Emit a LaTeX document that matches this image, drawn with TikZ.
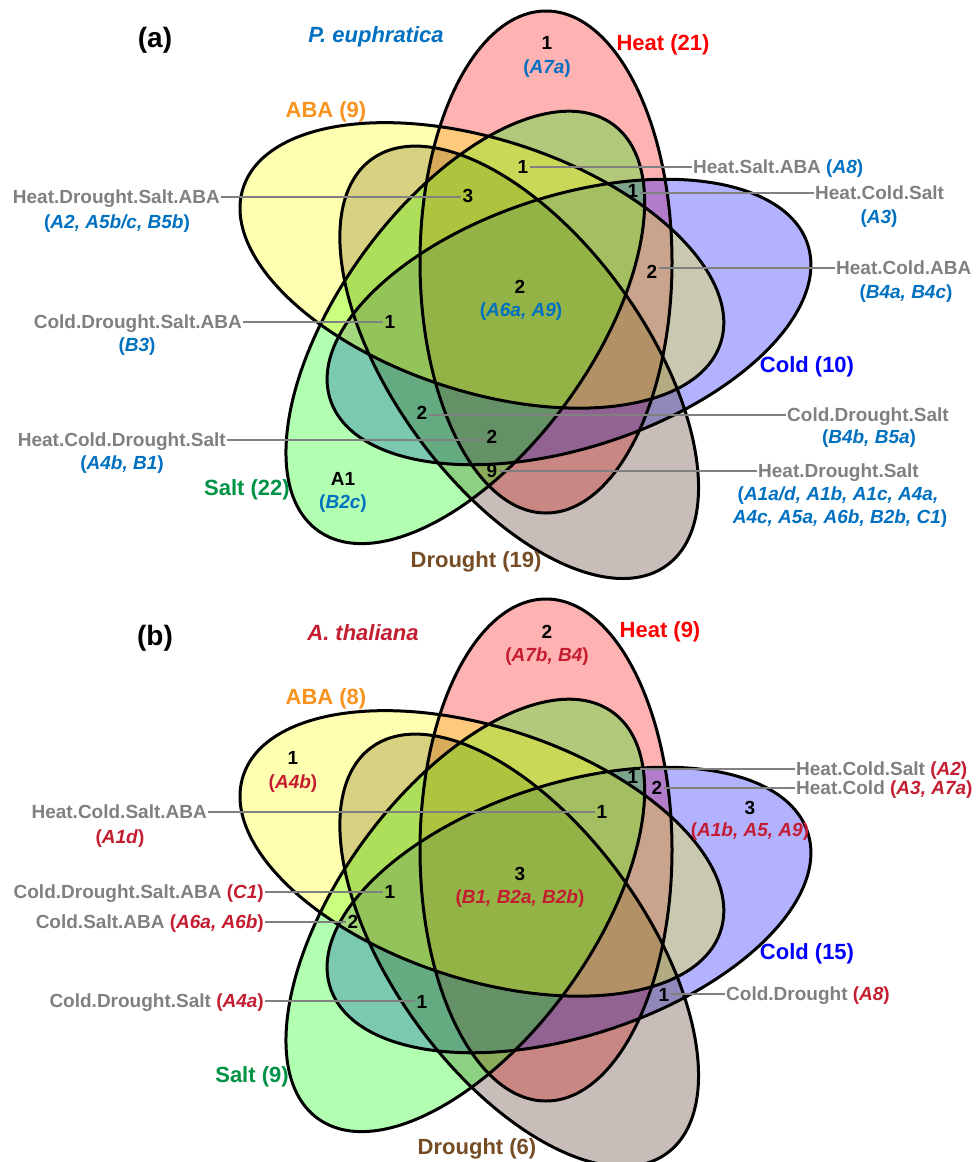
\documentclass[tikz,border=0pt]{standalone}
\usepackage{fontspec}
\setmainfont{Liberation Sans}
\definecolor{cheat}{RGB}{255,0,0}
\definecolor{ccold}{RGB}{0,0,255}
\definecolor{cdrought}{RGB}{72,38,22}
\definecolor{csalt}{RGB}{0,255,0}
\definecolor{caba}{RGB}{255,255,0}
\definecolor{tgray}{RGB}{128,128,128}
\definecolor{gblue}{RGB}{0,112,192}
\definecolor{gred}{RGB}{196,28,48}
\definecolor{taba}{RGB}{247,147,30}
\definecolor{tsalt}{RGB}{0,146,69}
\definecolor{tdrought}{RGB}{117,76,36}
\newcommand\gbl[1]{\textcolor{gblue}{(\textit{#1})}}
\newcommand\grd[1]{\textcolor{gred}{(\textit{#1})}}
\newcommand\drawvenn{%
  \fill[cheat, fill opacity=0.3] (546,262) ellipse[x radius=126pt, y radius=251pt];
  \fill[ccold, fill opacity=0.3, rotate around={18:(569,322)}] (569,322) ellipse[x radius=251pt, y radius=126pt];
  \fill[cdrought, fill opacity=0.3, rotate around={-54:(519.2,362.3)}] (519.2,362.3) ellipse[x radius=251pt, y radius=126pt];
  \fill[csalt, fill opacity=0.3, rotate around={-126:(465.3,327.4)}] (465.3,327.4) ellipse[x radius=251pt, y radius=126pt];
  \fill[caba, fill opacity=0.3, rotate around={162:(481.9,265.4)}] (481.9,265.4) ellipse[x radius=251pt, y radius=126pt];
  \draw[outl] (546,262) ellipse[x radius=126pt, y radius=251pt];
  \draw[outl, rotate around={18:(569,322)}] (569,322) ellipse[x radius=251pt, y radius=126pt];
  \draw[outl, rotate around={-54:(519.2,362.3)}] (519.2,362.3) ellipse[x radius=251pt, y radius=126pt];
  \draw[outl, rotate around={-126:(465.3,327.4)}] (465.3,327.4) ellipse[x radius=251pt, y radius=126pt];
  \draw[outl, rotate around={162:(481.9,265.4)}] (481.9,265.4) ellipse[x radius=251pt, y radius=126pt];
}
\tikzset{
  outl/.style={draw=black, line width=3pt},
  setlab/.style={font=\fontsize{22}{26}\selectfont\bfseries, inner sep=0pt, text height=15.8pt, text depth=0pt},
  titlab/.style={font=\fontsize{28}{32}\selectfont\bfseries, inner sep=0pt},
  glab/.style={font=\fontsize{19}{22}\selectfont\bfseries, text=tgray, inner sep=1pt, text height=13.6pt, text depth=0pt},
  gene/.style={font=\fontsize{19}{22}\selectfont\bfseries, inner sep=0pt, text height=13.6pt, text depth=0pt},
  num/.style={font=\fontsize{19}{22}\selectfont\bfseries, inner sep=2pt, text height=13.6pt, text depth=0pt},
  leader/.style={draw=tgray, line width=1.8pt},
}
\begin{document}
\begin{tikzpicture}[x=1pt, y=-1pt]
\useasboundingbox (0,0) rectangle (977,1162);
% ---------------- panel (a)
\begin{scope}
\drawvenn
\end{scope}
\node[titlab] (ta) at (155,40) {(a)};
\node[setlab, text=gblue, font=\fontsize{22}{26}\selectfont\bfseries\itshape] (spa) at (376,35) {P. euphratica};
\node[setlab, text=taba] (abaa) at (326,110) {ABA (9)};
\node[setlab, text=cheat] (heata) at (663,43) {Heat (21)};
\node[setlab, text=ccold] (colda) at (807,365) {Cold (10)};
\node[setlab, text=tsalt] (salta) at (247,488) {Salt (22)};
\node[setlab, text=tdrought] (drougha) at (476,560) {Drought (19)};
% heat only
\node[num] (a1) at (547,43) {1};
\node[gene] (a1g) at (547,67) {\gbl{A7a}};
% heat.salt.aba
\node[num] (a2) at (523,167) {1};
\node[glab, anchor=west] (a2l) at (692,167) {Heat.Salt.ABA \gbl{A8}};
\draw[leader] (a2l.west) -- (a2l.west -| a2.east);
% heat.cold.salt
\node[num] (a3) at (633,191) {1};
\node[glab, anchor=west] (a3l) at (814,193) {Heat.Cold.Salt};
\node[gene] (a3g) at (879,217) {\gbl{A3}};
\draw[leader] (a3l.west) -- (a3l.west -| a3.east);
% heat.cold.aba
\node[num] (a4) at (652,272) {2};
\node[glab, anchor=west] (a4l) at (835,268) {Heat.Cold.ABA};
\node[gene] (a4g) at (906,292) {\gbl{B4a, B4c}};
\draw[leader] (a4l.west) -- (a4l.west -| a4.east);
% heat.drought.salt.aba
\node[num] (a5) at (468,196) {3};
\node[glab, anchor=east] (a5l) at (221,197) {Heat.Drought.Salt.ABA};
\node[gene] (a5g) at (117,222) {\gbl{A2, A5b/c, B5b}};
\draw[leader] (a5l.east) -- (a5l.east -| a5.west);
% centre
\node[num] (a6) at (520,287) {2};
\node[gene] (a6g) at (521,310) {\gbl{A6a, A9}};
% cold.drought.salt.aba
\node[num] (a7) at (390,322) {1};
\node[glab, anchor=east] (a7l) at (243,322) {Cold.Drought.Salt.ABA};
\node[gene] (a7g) at (137,345) {\gbl{B3}};
\draw[leader] (a7l.east) -- (a7l.east -| a7.west);
% cold.drought.salt
\node[num] (a8) at (422,413) {2};
\node[glab, anchor=west] (a8l) at (786,415) {Cold.Drought.Salt};
\node[gene] (a8g) at (869,437) {\gbl{B4b, B5a}};
\draw[leader] (a8l.west) -- (a8l.west -| a8.east);
% heat.cold.drought.salt
\node[num] (a9) at (492,437) {2};
\node[glab, anchor=east] (a9l) at (227,440) {Heat.Cold.Drought.Salt};
\node[gene] (a9g) at (122,463) {\gbl{A4b, B1}};
\draw[leader] (a9l.east) -- (a9l.east -| a9.west);
% heat.drought.salt
\node[num] (a10) at (492,471) {9};
\node[glab, anchor=west] (a10l) at (757,471) {Heat.Drought.Salt};
\node[gene] (a10g) at (838,494) {\textcolor{gblue}{(\textit{A1a/d, A1b, A1c, A4a,}}};
\node[gene] (a10h) at (840,517) {\textcolor{gblue}{\textit{A4c, A5a, A6b, B2b, C1})}};
\draw[leader] (a10l.west) -- (a10l.west -| a10.east);
% salt only
\node[num] (a11) at (343,479) {A1};
\node[gene] (a11g) at (343,502) {\gbl{B2c}};
% ---------------- panel (b)
\begin{scope}[shift={(0,588)}]
\drawvenn
\end{scope}
\node[titlab] (tb) at (155,638) {(b)};
\node[setlab, text=gred, font=\fontsize{22}{26}\selectfont\bfseries\itshape] (spb) at (363,633) {A. thaliana};
\node[setlab, text=taba] (abab) at (326,697) {ABA (8)};
\node[setlab, text=cheat] (heatb) at (660,630) {Heat (9)};
\node[setlab, text=ccold] (coldb) at (807,952) {Cold (15)};
\node[setlab, text=tsalt] (saltb) at (252,1075) {Salt (9)};
\node[setlab, text=tdrought] (droughtb) at (477,1147) {Drought (6)};
% heat only
\node[num] (b1) at (547,632) {2};
\node[gene] (b1g) at (547,655) {\grd{A7b, B4}};
% aba only
\node[num] (b2) at (293,758) {1};
\node[gene] (b2g) at (293,782) {\grd{A4b}};
% heat.cold.salt.aba
\node[num] (b3) at (602,812) {1};
\node[glab, anchor=east] (b3l) at (208,812) {Heat.Cold.Salt.ABA};
\node[gene] (b3g) at (120,837) {\grd{A1d}};
\draw[leader] (b3l.east) -- (b3l.east -| b3.west);
% heat.cold.salt
\node[num] (b4) at (633,777) {1};
\node[glab, anchor=west] (b4l) at (795,769) {Heat.Cold.Salt \grd{A2}};
\draw[leader] (b4l.west) -- (b4l.west -| b4.east);
% heat.cold
\node[num] (b5) at (657,788) {2};
\node[glab, anchor=west] (b5l) at (795,788) {Heat.Cold \grd{A3, A7a}};
\draw[leader] (b5l.west) -- (b5l.west -| b5.east);
% cold only
\node[num] (b6) at (750,808) {3};
\node[gene] (b6g) at (750,830) {\grd{A1b, A5, A9}};
% centre
\node[num] (b7) at (520,874) {3};
\node[gene] (b7g) at (520,897) {\grd{B1, B2a, B2b}};
% cold.drought.salt.aba
\node[num] (b8) at (390,892) {1};
\node[glab, anchor=east] (b8l) at (265,892) {Cold.Drought.Salt.ABA \grd{C1}};
\draw[leader] (b8l.east) -- (b8l.east -| b8.west);
% cold.salt.aba
\node[num] (b9) at (353,922) {2};
\node[glab, anchor=east] (b9l) at (265,922) {Cold.Salt.ABA \grd{A6a, A6b}};
\draw[leader] (b9l.east) -- (b9l.east -| b9.west);
% cold.drought.salt
\node[num] (b10) at (422,1002) {1};
\node[glab, anchor=east] (b10l) at (265,1001) {Cold.Drought.Salt \grd{A4a}};
\draw[leader] (b10l.east) -- (b10l.east -| b10.west);
% cold.drought
\node[num] (b11) at (664,995) {1};
\node[glab, anchor=west] (b11l) at (725,994) {Cold.Drought \grd{A8}};
\draw[leader] (b11l.west) -- (b11l.west -| b11.east);
\end{tikzpicture}
\end{document}
